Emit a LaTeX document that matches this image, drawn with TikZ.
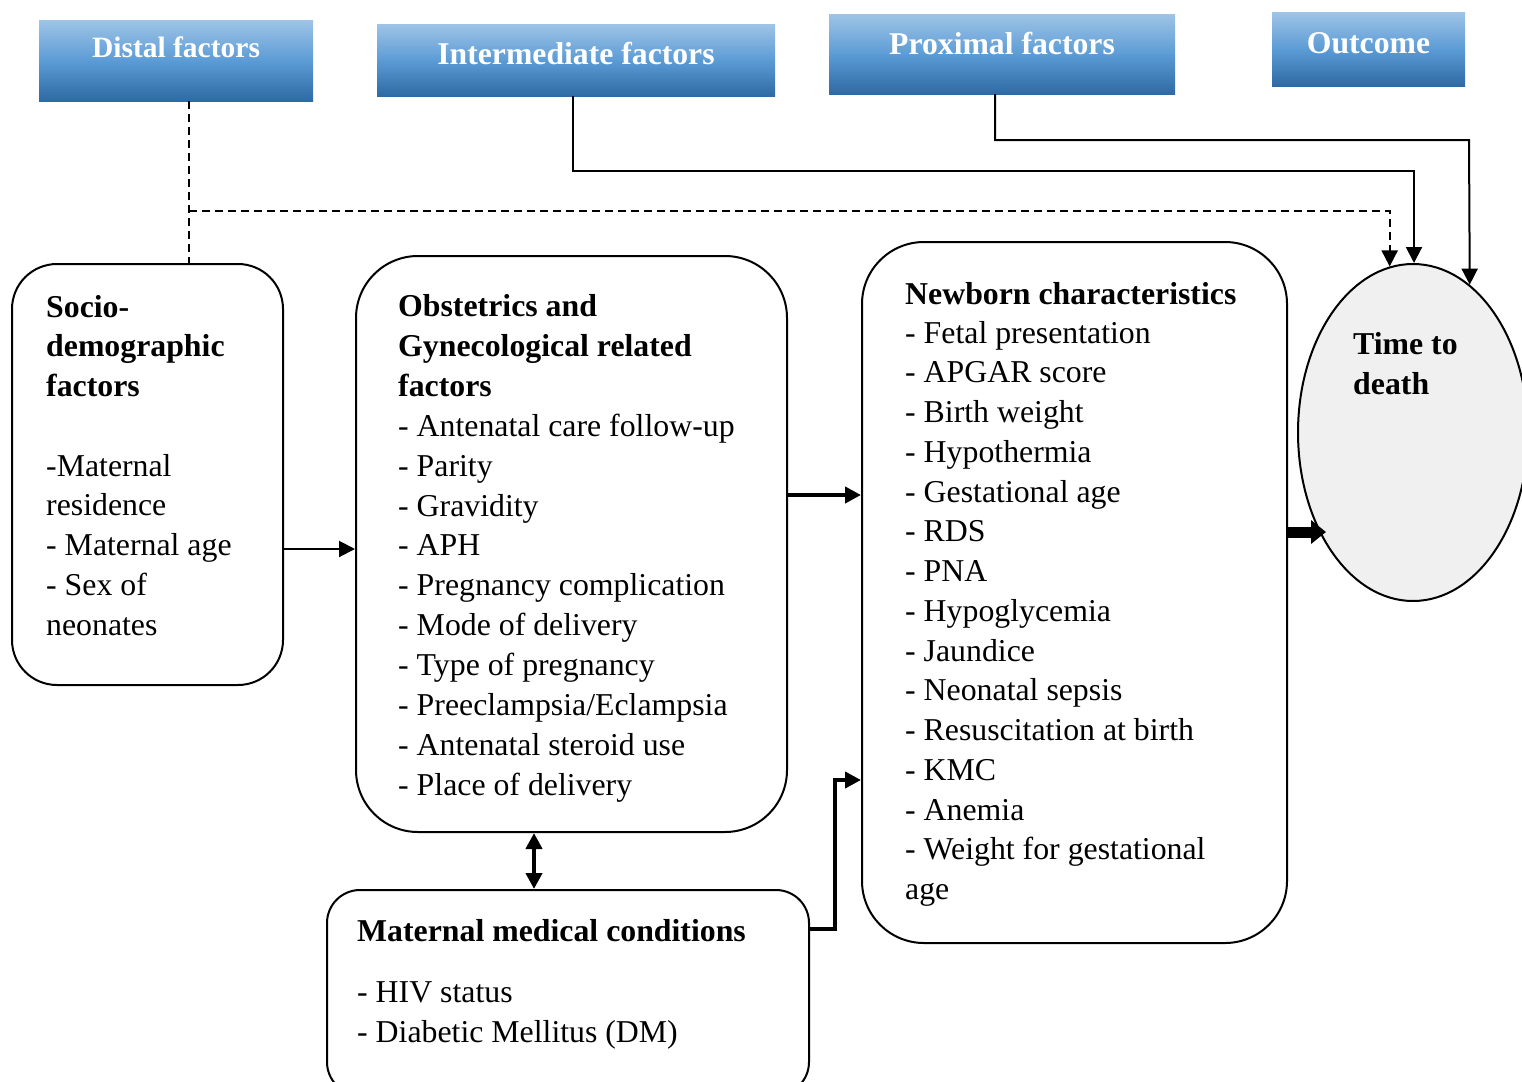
\documentclass[tikz,border=0pt]{standalone}
\usepackage{fontspec}
\setmainfont{Liberation Serif}
\usetikzlibrary{shapes.geometric,arrows.meta,calc}
\definecolor{hdtop}{RGB}{157,195,230}
\definecolor{hdmid}{RGB}{91,155,213}
\definecolor{hdbot}{RGB}{46,106,163}
\definecolor{ellfill}{RGB}{240,240,240}
\begin{document}
\begin{tikzpicture}[x=1pt,y=-1pt,
  >={Triangle[length=16pt,width=16pt]},
  hdr/.style={rectangle, inner sep=0, draw=none, top color=hdtop, bottom color=hdbot, middle color=hdmid},
  hdtxt/.style={anchor=base, inner sep=0, text=white, font=\fontsize{31.7}{36}\selectfont\bfseries},
  rbox/.style={rectangle, draw, line width=2pt, inner sep=0, fill=white},
  txt/.style={anchor=base west, inner sep=0, font=\fontsize{31.8}{38}\selectfont},
  btxt/.style={anchor=base west, inner sep=0, font=\fontsize{31.8}{38}\selectfont\bfseries},
  ln/.style={line width=2pt},
  thk/.style={line width=4pt},
  dsh/.style={line width=2pt, dash pattern=on 8pt off 5pt}]
\useasboundingbox (0,0) rectangle (1522,1081);
\clip (0,0) rectangle (1522,1081);

% header boxes
\node[hdr, minimum width=274pt, minimum height=80pt] (distal) at (176,61) {};
\node[hdr, minimum width=398pt, minimum height=71pt] (inter) at (576,60.5) {};
\node[hdr, minimum width=346pt, minimum height=79pt] (prox) at (1002,54.5) {};
\node[hdr, minimum width=193pt, minimum height=73pt] (outc) at (1368.5,49.5) {};
\node[hdtxt, font=\fontsize{29.5}{34}\selectfont\bfseries] (distalt) at (176,58) {Distal factors};
\node[hdtxt] (intert) at (576,64) {Intermediate factors};
\node[hdtxt] (proxt) at (1002,55) {Proximal factors};
\node[hdtxt] (outct) at (1368.5,53) {Outcome};

% main boxes
\node[rbox, rounded corners=45pt, minimum width=271pt, minimum height=421pt] (socio) at (147.5,474.5) {};
\node[rbox, rounded corners=62pt, minimum width=431pt, minimum height=576pt] (obst) at (571.5,544) {};
\node[rbox, rounded corners=62pt, minimum width=425pt, minimum height=701pt] (newb) at (1074.5,592.5) {};
\node[rbox, rounded corners=33pt, minimum width=482pt, minimum height=205pt] (mat) at (568,992.5) {};
\node[ellipse, draw, line width=2pt, fill=ellfill, inner sep=0, minimum width=230pt, minimum height=337pt] (time) at (1413,432.5) {};

% socio text
\foreach \t [count=\i from 0] in {Socio-,demographic,factors}
  \node[btxt] (so\i) at (46,317+39.75*\i) {\t};
\foreach \t [count=\i from 4] in {-Maternal,residence,- Maternal age,- Sex of,neonates}
  \node[txt] (si\i) at (46,317+39.75*\i) {\t};

% obstetrics text
\foreach \t [count=\i from 0] in {Obstetrics and,Gynecological related,factors}
  \node[btxt] (ob\i) at (398,316.8+39.85*\i) {\t};
\foreach \t [count=\i from 3] in {- Antenatal care follow-up,- Parity,- Gravidity,- APH,- Pregnancy complication,- Mode of delivery,- Type of pregnancy,- Preeclampsia/Eclampsia,- Antenatal steroid use,- Place of delivery}
  \node[txt] (oi\i) at (398,316.8+39.85*\i) {\t};

% newborn text
\node[btxt] (nbh) at (905,304.3) {Newborn characteristics};
\foreach \t [count=\i from 0] in {- Fetal presentation,- APGAR score,- Birth weight,- Hypothermia,- Gestational age,- RDS,- PNA,- Hypoglycemia,- Jaundice,- Neonatal sepsis,- Resuscitation at birth,- KMC,- Anemia,- Weight for gestational,age}
  \node[txt] (ni\i) at (905,343+39.75*\i) {\t};

% maternal text
\node[btxt] (mh) at (357,941) {Maternal medical conditions};
\node[txt] (m1) at (357,1002.5) {- HIV status};
\node[txt] (m2) at (357,1042) {- Diabetic Mellitus (DM)};

% outcome text
\node[btxt] (t1) at (1353,354) {Time to};
\node[btxt] (t2) at (1353,394.5) {death};

% connectors
\coordinate (dx) at (189,0);
\coordinate (dj) at (189,211);
\draw[dsh] (distal.south -| dx) -- (socio.north -| dx);
\draw[dsh,->] (dj) -| (time.98);

\coordinate (ix) at (573,0);
\coordinate (c2) at (1414,171);
\draw[ln,->] (inter.south -| ix) |- (c2) -- (c2 |- time.north);

\coordinate (px) at (995,0);
\coordinate (c3) at (1469,140);
\draw[ln,->] (prox.south -| px) |- (c3) -- (time.69);

\coordinate (a1) at (0,549);
\draw[ln,->] (socio.east |- a1) -- (obst.west |- a1);

\coordinate (a2) at (0,495);
\draw[thk,->] (obst.east |- a2) -- (newb.west |- a2);

\coordinate (a3) at (534,0);
\draw[thk,<->] (obst.south -| a3) -- (mat.north -| a3);

\coordinate (a4) at (0,929);
\coordinate (a5) at (835,780);
\draw[thk,->] (mat.east |- a4) -| (a5) -- (newb.west |- a5);

\coordinate (a7) at (0,532);
\draw[line width=11pt,-{Triangle[length=15pt,width=23pt]}] (newb.east |- a7) -- ($(time.west |- a7)+(29,0)$);
\end{tikzpicture}
\end{document}
